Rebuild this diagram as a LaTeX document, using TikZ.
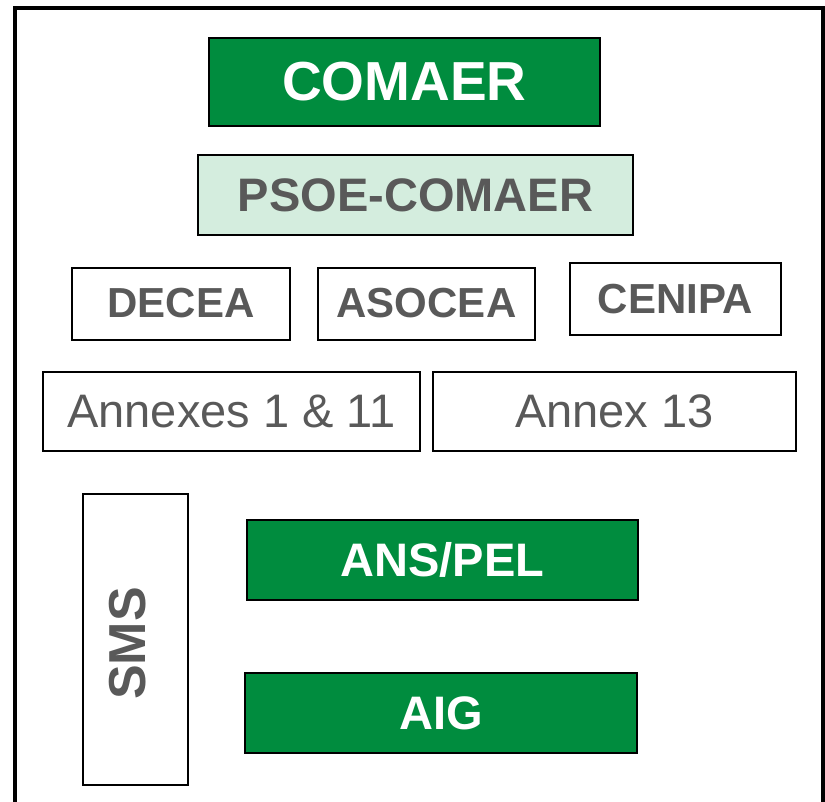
\documentclass[tikz,border=0pt]{standalone}
\usepackage{fontspec}
\setmainfont{Liberation Sans}
\usetikzlibrary{positioning}
\definecolor{orggreen}{RGB}{0,140,62}
\definecolor{palegreen}{RGB}{212,237,222}
\definecolor{txtgrey}{RGB}{89,89,89}
\tikzset{
     box/.style={draw=black, line width=2pt, inner sep=0pt, text=txtgrey},
     greenbox/.style={box, fill=orggreen, text=white, font=\bfseries\fontsize{47}{50}\selectfont},
     unitbox/.style={box, minimum width=217pt, minimum height=72pt, font=\bfseries\fontsize{42}{45}\selectfont},
     annexbox/.style={box, minimum height=79pt, font=\fontsize{47}{50}\selectfont}
     }

\begin{document}
\begin{tikzpicture}[x=1pt, y=-1pt]
                    \useasboundingbox (0,0) rectangle (825,801);
                    % Outer frame
                    \draw[line width=4pt] (15,8) rectangle (823,830);
                    % Place nodes
                    \node[greenbox, minimum width=391pt, minimum height=88pt, font=\bfseries\fontsize{55}{58}\selectfont] (comaer) at (404.5,82) {COMAER};
                    \node[box, fill=palegreen, minimum width=435pt, minimum height=80pt, font=\bfseries\fontsize{47}{50}\selectfont] (psoe) at (415.5,195) {PSOE-COMAER};
                    \node[unitbox, minimum width=218pt] (decea) at (181,303.5) {DECEA};
                    \node[unitbox, right=26pt of decea] (asocea) {ASOCEA};
                    \node[unitbox, minimum width=211pt] (cenipa) at (675.5,299) {CENIPA};
                    \node[annexbox, minimum width=377pt] (annexa) at (231.5,411.5) {Annexes 1 \& 11};
                    \node[annexbox, minimum width=363pt, right=11pt of annexa] (annexb) {Annex 13};
                    \node[box, minimum width=105pt, minimum height=291pt] (sms) at (135.5,639.5) {};
                    \node[text=txtgrey, rotate=90, font=\bfseries\fontsize{52}{54}\selectfont] (smstext) at ([xshift=-8pt, yshift=-4pt]sms.center) {SMS};
                    \node[greenbox, minimum width=391pt, minimum height=80pt] (anspel) at (442.5,560) {ANS/PEL};
                    \node[greenbox, minimum width=392pt, minimum height=80pt] (aig) at (441,713) {AIG};
                \end{tikzpicture}
\end{document}
